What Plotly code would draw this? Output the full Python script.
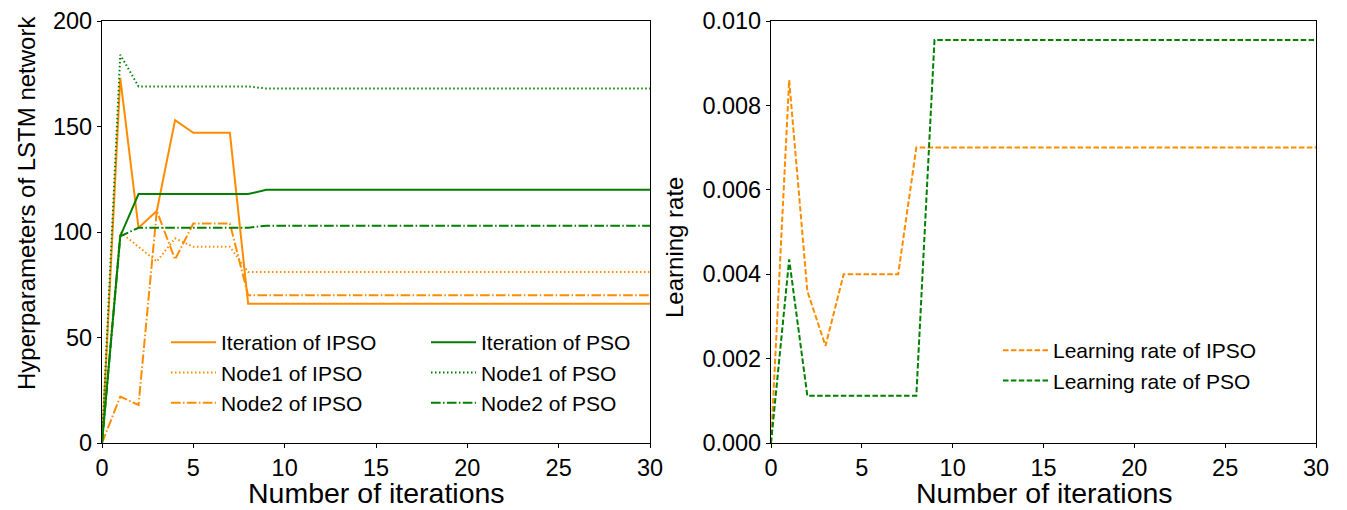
import plotly.graph_objects as go

iters = list(range(0, 31))

def ext(vals, n=31):
    return vals + [vals[-1]] * (n - len(vals))

# Left panel: hyperparameters (values at iterations 0..9, then constant)
iter_ipso = ext([0, 173, 102, 110, 153, 147, 147, 147, 66])
node1_ipso = ext([0, 100, 93, 86, 97, 93, 93, 93, 81])
node2_ipso = ext([0, 22, 18, 110, 87, 104, 104, 104, 70])
iter_pso = ext([0, 98, 118, 118, 118, 118, 118, 118, 118, 120])
node1_pso = ext([0, 184, 169, 169, 169, 169, 169, 169, 169, 168])
node2_pso = ext([0, 98, 102, 102, 102, 102, 102, 102, 102, 103])

# Right panel: learning rate
lr_ipso = ext([0, 0.0086, 0.0036, 0.0023, 0.0040, 0.0040, 0.0040, 0.0040, 0.0070])
lr_pso = ext([0, 0.00435, 0.00112, 0.00112, 0.00112, 0.00112, 0.00112, 0.00112, 0.00112, 0.00955])

x_ticks = [0, 5, 10, 15, 20, 25, 30]
y1_ticks = [0, 50, 100, 150, 200]
y2_ticks = [0, 0.002, 0.004, 0.006, 0.008, 0.010]

ORANGE = "#FF8C00"
GREEN = "#008000"
DOT = "1.5px,2.5px"
DASHDOT = "9.6px,2.4px,1.5px,2.4px"
DASH = "5.5px,2.4px"
LW = 2

fig = go.Figure()
left = [
    ("Iteration of IPSO", iter_ipso, ORANGE, "solid", "legend"),
    ("Node1 of IPSO", node1_ipso, ORANGE, DOT, "legend"),
    ("Node2 of IPSO", node2_ipso, ORANGE, DASHDOT, "legend"),
    ("Iteration of PSO", iter_pso, GREEN, "solid", "legend2"),
    ("Node1 of PSO", node1_pso, GREEN, DOT, "legend2"),
    ("Node2 of PSO", node2_pso, GREEN, DASHDOT, "legend2"),
]
for name, y, c, d, lg in left:
    fig.add_trace(go.Scatter(x=iters, y=y, mode="lines", name=name,
                             line=dict(color=c, dash=d, width=LW),
                             xaxis="x", yaxis="y", legend=lg))

fig.add_trace(go.Scatter(x=iters, y=lr_ipso, mode="lines", name="Learning rate of IPSO",
                         line=dict(color=ORANGE, dash=DASH, width=LW),
                         xaxis="x2", yaxis="y2", legend="legend3"))
fig.add_trace(go.Scatter(x=iters, y=lr_pso, mode="lines", name="Learning rate of PSO",
                         line=dict(color=GREEN, dash=DASH, width=LW),
                         xaxis="x2", yaxis="y2", legend="legend3"))

W, H = 1347, 510
def px(x):
    return x / W
def py(y):
    return 1 - y / H

FONT = "Liberation Sans, Arial, sans-serif"
axis_common = dict(showline=True, linecolor="black", linewidth=1.2, mirror=True,
                   ticks="outside", ticklen=4, tickcolor="black", showgrid=False,
                   zeroline=False, automargin=False,
                   tickfont=dict(size=23.5, color="black", family=FONT))

legend_common = dict(bgcolor="rgba(0,0,0,0)", borderwidth=0,
                     font=dict(size=21, color="black", family=FONT),
                     xanchor="left", yanchor="top", tracegroupgap=0,
                     itemwidth=45)

xtitle_font = dict(size=28.5, color="black", family=FONT)
ytitle_font = dict(size=24, color="black", family=FONT)

fig.update_layout(
    width=W, height=H,
    margin=dict(l=0, r=0, t=0, b=0),
    paper_bgcolor="white", plot_bgcolor="white",
    font=dict(family=FONT, color="black"),
    xaxis=dict(domain=[px(102), px(650)], range=[0, 30], tickvals=x_ticks,
               anchor="y", **axis_common),
    yaxis=dict(domain=[py(443), py(21)], range=[0, 200], tickvals=y1_ticks,
               anchor="x", **axis_common),
    xaxis2=dict(domain=[px(771), px(1316)], range=[0, 30], tickvals=x_ticks,
                anchor="y2", **axis_common),
    yaxis2=dict(domain=[py(443), py(21)], range=[0, 0.010],
                tickvals=y2_ticks, tickformat=".3f",
                anchor="x2", **axis_common),
    legend=dict(x=px(166), y=py(322), **legend_common),
    legend2=dict(x=px(426), y=py(322), **legend_common),
    legend3=dict(x=px(998), y=py(330), **legend_common),
    showlegend=True,
    annotations=[
        dict(text="Number of iterations", x=px(376), y=0, xref="paper", yref="paper",
             showarrow=False, font=xtitle_font, xanchor="center", yanchor="bottom",
             borderpad=0),
        dict(text="Number of iterations", x=px(1044), y=0, xref="paper", yref="paper",
             showarrow=False, font=xtitle_font, xanchor="center", yanchor="bottom",
             borderpad=0),
        dict(text="Hyperparameters of LSTM network", x=px(27), y=py(203), xref="paper", yref="paper",
             showarrow=False, textangle=-90, font=ytitle_font,
             xanchor="center", yanchor="middle"),
        dict(text="Learning rate", x=px(674), y=py(247), xref="paper", yref="paper",
             showarrow=False, textangle=-90, font=ytitle_font,
             xanchor="center", yanchor="middle"),
    ],
)

fig.write_html("out.html", config={"displayModeBar": False},
               post_script="document.body.style.margin='0';document.body.style.overflow='hidden';")
